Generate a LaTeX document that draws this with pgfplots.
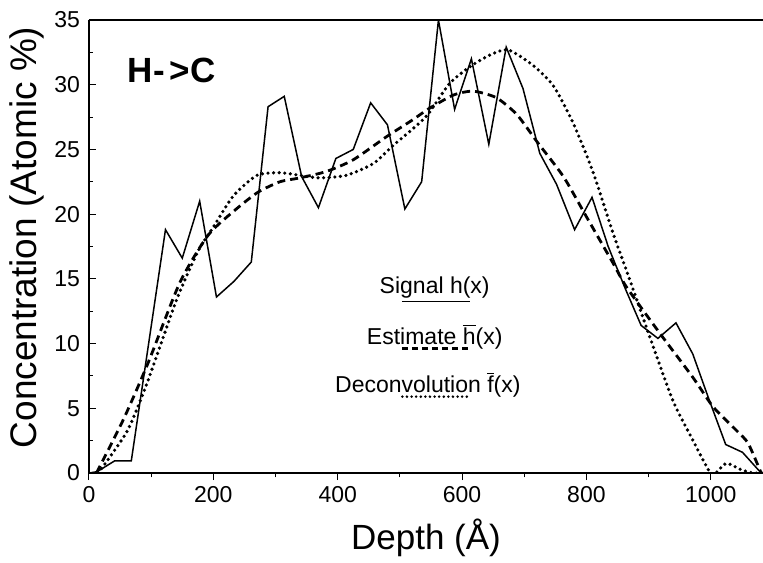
\documentclass[border=0pt]{standalone}
\usepackage{fontspec}
\setmainfont{Liberation Sans}
\usepackage{pgfplots}
\usepackage{pgfplotstable}
\pgfplotsset{compat=1.18}

\pgfplotstableread{
x y
0 0
13 0.1
41 0.93
68 0.93
123 18.8
150 16.6
178 21.0
205 13.6
233 14.8
261 16.3
288 28.3
314 29.1
342 22.9
369 20.5
397 24.3
425 25.0
453 28.6
480 26.9
508 20.4
535 22.5
562 35.0
588 28.1
615 32.0
643 25.4
671 32.9
698 29.7
725 24.7
752 22.3
781 18.8
809 21.3
835 17.5
862 14.3
888 11.4
915 10.4
944 11.6
971 9.2
997 5.7
1024 2.2
1051 1.6
1081 0
}\signal

\pgfplotstableread{
x y
12 0
55 4.1
95 8.5
146 14.7
192 18.4
237 20.4
272 21.7
307 22.5
339 22.8
382 23.3
425 24.2
479 26.0
521 27.3
545 28.1
586 29.2
618 29.5
655 29.0
688 27.7
722 25.5
763 22.9
800 19.8
843 16.2
864 14.4
918 10.8
971 7.4
1004 5.1
1041 3.3
1060 2.3
1081 0
}\estimate

\pgfplotstableread{
x y
15 0
61 3.2
93 6.9
141 13.4
176 17.2
200 19.0
232 21.4
270 23.0
307 23.2
339 23.0
371 22.8
414 23.0
457 23.9
489 25.3
521 26.6
545 27.7
580 30.1
613 31.4
645 32.3
674 32.7
714 31.5
747 29.9
779 27.0
811 23.2
843 18.5
867 15.3
902 10.5
939 5.6
971 2.55
998 0.1
1008 0
1025 0.75
1049 0.25
1068 0
1084 0
}\deconv

\begin{document}
\begin{tikzpicture}
\begin{axis}[
  scale only axis, width=337pt, height=226.5pt,
  xmin=0, xmax=1084, ymin=0, ymax=35,
  axis x line*=box, axis y line*=left,
  xtick={0,200,...,1000}, ytick={0,5,...,35},
  minor x tick num=1, minor y tick num=1,
  xtick pos=left, ytick pos=left,
  tick align=inside,
  major tick length=3.5pt, minor tick length=2.2pt,
  every major x tick/.append style={yshift=-3.5pt},
  every minor x tick/.append style={yshift=-2.2pt},
  tick style={black, line width=0.5pt},
  axis line style={line width=0.7pt},
  /pgf/number format/assume math mode=true,
  /pgf/number format/set thousands separator={},
  ticklabel style={font=\fontsize{11.5}{13}\selectfont},
  xticklabel style={yshift=-3pt},
  yticklabel style={xshift=-1pt},
  xlabel={Depth (Å)},
  ylabel={Concentration (Atomic \%)},
  every axis x label/.style={at={([yshift=-32.5pt]axis description cs:0.5,0)}, anchor=center, font=\fontsize{17.5}{20}\selectfont},
  every axis y label/.style={at={([xshift=-31pt]axis description cs:0,0.52)}, anchor=center, rotate=90, font=\fontsize{18.5}{21}\selectfont},
  clip=true,
]
\addplot[black, line width=0.75pt, line join=miter] table[x=x,y=y] {\signal};
\addplot[black, line width=1.4pt, dash pattern=on 4pt off 2.5pt, smooth, tension=0.4] table[x=x,y=y] {\estimate};
\addplot[black, line width=1.8pt, line cap=round, dash pattern=on 0pt off 2.8pt, smooth, tension=0.4] table[x=x,y=y] {\deconv};

\node[anchor=west, font=\fontsize{17.5}{20}\selectfont\bfseries, inner sep=0pt] at (axis cs:62,31.1) {H-\hspace{2.5pt}>C};

\draw[black, line width=0.75pt] (axis cs:503,13.24) -- (axis cs:613,13.24);
\draw[black, line width=1.4pt, dash pattern=on 3pt off 2pt] (axis cs:503,9.64) -- (axis cs:613,9.64);
\draw[black, line width=1.4pt, line cap=round, dash pattern=on 0pt off 2.3pt] (axis cs:504,5.9) -- (axis cs:613,5.9);
\node[font=\fontsize{11.5}{13}\selectfont, inner sep=0pt] at (axis cs:556,14.3) {Signal h(x)};
\node[font=\fontsize{11.5}{13}\selectfont, inner sep=0pt] at (axis cs:556,10.53) {Estimate $\overline{\mbox{h}}$(x)};
\node[font=\fontsize{11.5}{13}\selectfont, inner sep=0pt] at (axis cs:545,6.8) {Deconvolution $\overline{\mbox{f}}$(x)};
\end{axis}
\pgfresetboundingbox
\path[use as bounding box] (-44.5pt,-44.5pt) rectangle (337pt,236.5pt);
\end{tikzpicture}
\end{document}
